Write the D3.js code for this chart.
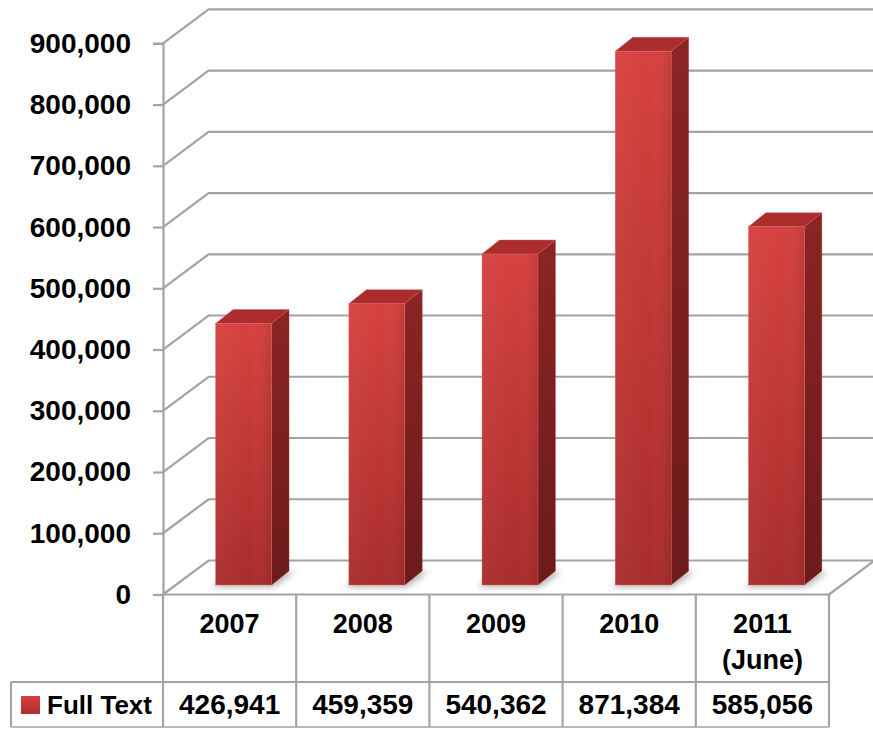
<!DOCTYPE html>
<html>
<head>
<meta charset="utf-8">
<script src="https://cdn.jsdelivr.net/npm/d3@7"></script>
<style>
  html, body { margin: 0; padding: 0; background: #fff; }
  svg { display: block; }
  text { font-family: "Liberation Sans", Arial, sans-serif; font-weight: bold; fill: #000; }
</style>
</head>
<body>
<svg id="chart" width="873" height="729"></svg>
<script>
const categories = ["2007", "2008", "2009", "2010", "2011\n(June)"];
const seriesName = "Full Text";
const values = [426941, 459359, 540362, 871384, 585056];
const tickValues = [0, 100000, 200000, 300000, 400000, 500000, 600000, 700000, 800000, 900000];

const W = 873, H = 729;
const svg = d3.select("#chart");
const gridColor = "#a3a3a3";

// geometry
const plotLeft = 163, plotRight = 829;
const yBottom = 594.5, yTop = 43.3;
const depthDX = 45.6, depthDY = -34;       // wall depth
const barOffDX = 14, barOffDY = -9.5;      // front face of bar within depth
const barDX = 17.5, barDY = -14;           // bar's own depth
const tableHeaderBottom = 682, tableBottom = 727, legendLeft = 11;

const y = d3.scaleLinear().domain([0, 900000]).range([yBottom, yTop]);
const xCol = d3.scaleBand().domain(categories).range([plotLeft, plotRight]).padding(0);
const xBar = d3.scaleBand().domain(categories).range([plotLeft, plotRight]).paddingInner(0.58).paddingOuter(0.29);

const fmt = d3.format(",");

// defs
const defs = svg.append("defs");
const gFront = defs.append("linearGradient").attr("id", "gFront").attr("x1", 0).attr("y1", 0).attr("x2", 0).attr("y2", 1);
gFront.append("stop").attr("offset", "0%").attr("stop-color", "#d5413e");
gFront.append("stop").attr("offset", "100%").attr("stop-color", "#a92c2c");
const gFrontH = defs.append("linearGradient").attr("id", "gFrontH").attr("x1", 0).attr("y1", 0).attr("x2", 1).attr("y2", 0);
gFrontH.append("stop").attr("offset", "0%").attr("stop-color", "#fff").attr("stop-opacity", 0.04);
gFrontH.append("stop").attr("offset", "60%").attr("stop-color", "#fff").attr("stop-opacity", 0.0);
gFrontH.append("stop").attr("offset", "100%").attr("stop-color", "#000").attr("stop-opacity", 0.08);
const gSide = defs.append("linearGradient").attr("id", "gSide").attr("x1", 0).attr("y1", 0).attr("x2", 0).attr("y2", 1);
gSide.append("stop").attr("offset", "0%").attr("stop-color", "#8c2424");
gSide.append("stop").attr("offset", "100%").attr("stop-color", "#6c1a1a");
const gLeg = defs.append("linearGradient").attr("id", "gLeg").attr("x1", 0).attr("y1", 0).attr("x2", 0).attr("y2", 1);
gLeg.append("stop").attr("offset", "0%").attr("stop-color", "#d5413e");
gLeg.append("stop").attr("offset", "100%").attr("stop-color", "#ad2d2d");
const blur = defs.append("filter").attr("id", "blur").attr("x", "-50%").attr("y", "-50%").attr("width", "200%").attr("height", "200%");
blur.append("feGaussianBlur").attr("stdDeviation", 3);

// gridlines (walls)
const grid = svg.append("g");
tickValues.forEach(v => {
  const yy = y(v);
  grid.append("path")
    .attr("d", `M${plotLeft},${yy} L${plotLeft + depthDX},${yy + depthDY} L${W + 5},${yy + depthDY}`)
    .attr("fill", "none").attr("stroke", gridColor).attr("stroke-width", 2.2);
});
// floor right edge
grid.append("path")
  .attr("d", `M${plotRight},${yBottom} L${plotRight + depthDX},${yBottom + depthDY}`)
  .attr("fill", "none").attr("stroke", gridColor).attr("stroke-width", 2.2);

// y axis
const axis = d3.axisLeft(y).tickValues(tickValues).tickSize(10).tickPadding(22)
  .tickFormat(d => fmt(d));
const gAxis = svg.append("g").attr("transform", `translate(${plotLeft},0)`).call(axis);
gAxis.select(".domain").attr("stroke", gridColor).attr("stroke-width", 2.2);
gAxis.selectAll(".tick line").attr("stroke", gridColor).attr("stroke-width", 2.2);
gAxis.selectAll(".tick text").attr("font-size", 28).attr("font-family", '"Liberation Sans", Arial, sans-serif')
  .attr("font-weight", "bold").attr("fill", "#000");

// bars
const bars = svg.append("g");
categories.forEach((c, i) => {
  const x0 = xBar(c) + barOffDX;
  const x1 = x0 + xBar.bandwidth();
  const yb = y(0) + barOffDY;
  const yt = y(values[i]) + barOffDY;
  // shadow
  bars.append("path")
    .attr("d", `M${x0 - 4},${yb + 2} L${x1 + 2},${yb + 2} L${x1 + barDX + 6},${yb + barDY + 1} L${x0 + barDX},${yb + barDY - 1} Z`)
    .attr("fill", "#555").attr("opacity", 0.45).attr("filter", "url(#blur)");
  // side
  bars.append("path")
    .attr("d", `M${x1},${yt} L${x1 + barDX},${yt + barDY} L${x1 + barDX},${yb + barDY} L${x1},${yb} Z`)
    .attr("fill", "url(#gSide)").attr("stroke", "#b54a4a").attr("stroke-width", 0.6).attr("stroke-opacity", 0.6);
  // top
  bars.append("path")
    .attr("d", `M${x0},${yt} L${x0 + barDX},${yt + barDY} L${x1 + barDX},${yt + barDY} L${x1},${yt} Z`)
    .attr("fill", "#ac2d2d").attr("stroke", "#c85a58").attr("stroke-width", 0.6).attr("stroke-opacity", 0.7);
  // front
  bars.append("rect")
    .attr("x", x0).attr("y", yt).attr("width", x1 - x0).attr("height", yb - yt)
    .attr("fill", "url(#gFront)");
  bars.append("rect")
    .attr("x", x0).attr("y", yt).attr("width", x1 - x0).attr("height", yb - yt)
    .attr("fill", "url(#gFrontH)").attr("stroke", "#d96a68").attr("stroke-width", 0.6).attr("stroke-opacity", 0.6);
});

// data table
const table = svg.append("g");
const line = (x1, y1, x2, y2, sw) => table.append("line")
  .attr("x1", x1).attr("y1", y1).attr("x2", x2).attr("y2", y2)
  .attr("stroke", gridColor).attr("stroke-width", sw || 2.2);

line(plotLeft, yBottom, plotRight, yBottom);
line(legendLeft, tableHeaderBottom, plotRight, tableHeaderBottom);
line(legendLeft, tableBottom, plotRight, tableBottom, 1.5);
line(legendLeft, tableHeaderBottom, legendLeft, tableBottom);
categories.forEach(c => line(xCol(c), yBottom, xCol(c), tableBottom));
line(plotRight, yBottom, plotRight, tableBottom);

// header labels
categories.forEach(c => {
  const cx = xCol(c) + xCol.bandwidth() / 2;
  const t = table.append("text").attr("text-anchor", "middle").attr("font-size", 27);
  c.split("\n").forEach((part, k) => {
    t.append("tspan").attr("x", cx).attr("y", 633 + k * 36).text(part);
  });
});

// values row
categories.forEach((c, i) => {
  const cx = xCol(c) + xCol.bandwidth() / 2;
  table.append("text").attr("x", cx).attr("y", 714).attr("text-anchor", "middle")
    .attr("font-size", 28).text(fmt(values[i]));
});

// legend cell
table.append("rect").attr("x", 21).attr("y", 696).attr("width", 19).attr("height", 18)
  .attr("fill", "url(#gLeg)");
table.append("text").attr("x", 47).attr("y", 714).attr("font-size", 26).text(seriesName);
</script>
</body>
</html>
